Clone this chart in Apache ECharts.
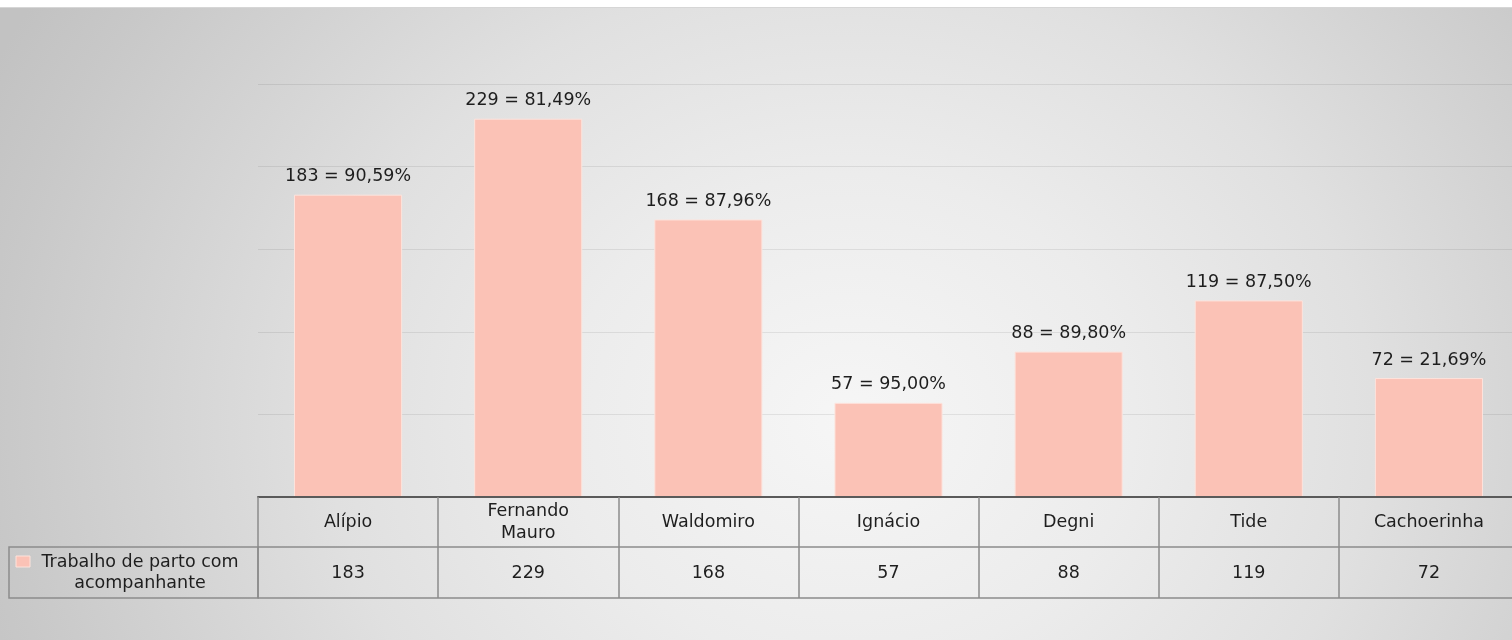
<!DOCTYPE html>
<html>
<head>
<meta charset="utf-8">
<script src="https://cdn.jsdelivr.net/npm/echarts@6/dist/echarts.min.js"></script>
<style>
  html, body { margin: 0; padding: 0; }
  #chart {
    width: 1512px;
    height: 640px;
    background:
      linear-gradient(to bottom, #fff 0, #fff 7px, #d6d6d6 7px, #d6d6d6 8px, transparent 8px),
      radial-gradient(ellipse 950px 820px at 850px 420px, #f6f6f6 0%, #ececec 30%, #e0e0e0 55%, #c8c8c8 90%, #c2c2c2 100%);
  }
</style>
</head>
<body>
<div id="chart"></div>
<script>
// dados
var categorias = ['Alípio', 'Fernando\nMauro', 'Waldomiro', 'Ignácio', 'Degni', 'Tide', 'Cachoerinha']
var valores = [183, 229, 168, 57, 88, 119, 72]
var percentuais = ['90,59%', '81,49%', '87,96%', '95,00%', '89,80%', '87,50%', '21,69%']
var serieNome = 'Trabalho de parto com acompanhante'
var yTicks = [0, 50, 100, 150, 200, 250]

var gridLeft = 258
var gridTop = 84
var gridBottomY = 497
var rowH = 50
var corBarra = '#FBC2B6'
var corLinha = '#8c8c8c'
var fonte = 'DejaVu Sans'

var myChart = echarts.init(document.getElementById('chart'))
var option = {
  backgroundColor: 'transparent',
  animation: false,
  grid: {
    left: gridLeft,
    top: gridTop,
    width: 1261,
    height: gridBottomY - gridTop,
    containLabel: false,
    outerBoundsMode: 'none'
  },
  xAxis: [
    {
      type: 'category',
      data: categorias,
      position: 'bottom',
      axisLine: { show: true, lineStyle: { color: '#5a5a5a', width: 2 } },
      axisTick: { show: true, interval: 0, length: rowH * 2 + 1, lineStyle: { color: corLinha, width: 1.5 } },
      axisLabel: {
        interval: 0,
        margin: 25,
        verticalAlign: 'middle',
        color: '#1e1e1e',
        fontFamily: fonte,
        fontSize: 17.5,
        lineHeight: 22
      },
      z: 5
    },
    {
      type: 'category',
      data: valores.map(String),
      position: 'bottom',
      offset: rowH,
      axisLine: { show: true, lineStyle: { color: corLinha, width: 1.5 } },
      axisTick: { show: false },
      axisLabel: {
        interval: 0,
        margin: 26,
        verticalAlign: 'middle',
        color: '#1e1e1e',
        fontFamily: fonte,
        fontSize: 17.5
      }
    },
    {
      type: 'category',
      data: categorias,
      position: 'bottom',
      offset: rowH * 2 + 1,
      axisLine: { show: true, lineStyle: { color: corLinha, width: 1.5 } },
      axisTick: { show: false },
      axisLabel: { show: false }
    }
  ],
  yAxis: {
    type: 'value',
    min: yTicks[0],
    max: yTicks[yTicks.length - 1],
    interval: yTicks[1] - yTicks[0],
    axisLine: { show: false },
    axisTick: { show: false },
    axisLabel: { show: false },
    splitLine: { lineStyle: { color: 'rgba(0,0,0,0.08)', width: 1 } }
  },
  series: [
    {
      name: serieNome,
      type: 'bar',
      data: valores,
      barWidth: '60%',
      itemStyle: { color: corBarra, borderColor: '#FDE3DC', borderWidth: 1 },
      label: {
        show: true,
        position: 'top',
        distance: 9,
        color: '#1e1e1e',
        fontFamily: fonte,
        fontSize: 17.5,
        formatter: function (p) {
          return p.value + ' = ' + percentuais[p.dataIndex]
        }
      }
    }
  ],
  graphic: [
    {
      type: 'rect',
      shape: { x: 9, y: gridBottomY + rowH, width: gridLeft - 9, height: rowH + 1 },
      style: { fill: 'none', stroke: corLinha, lineWidth: 1.5 }
    },
    {
      type: 'rect',
      shape: { x: 16, y: gridBottomY + rowH + 9, width: 14, height: 11 },
      style: { fill: corBarra, stroke: '#FDE3DC', lineWidth: 1 }
    },
    {
      type: 'text',
      x: 140,
      y: gridBottomY + rowH + 26,
      style: {
        text: 'Trabalho de parto com\nacompanhante',
        align: 'center',
        verticalAlign: 'middle',
        fill: '#1e1e1e',
        font: '17.5px "DejaVu Sans"',
        lineHeight: 21
      }
    }
  ]
}
myChart.setOption(option)
</script>
</body>
</html>
